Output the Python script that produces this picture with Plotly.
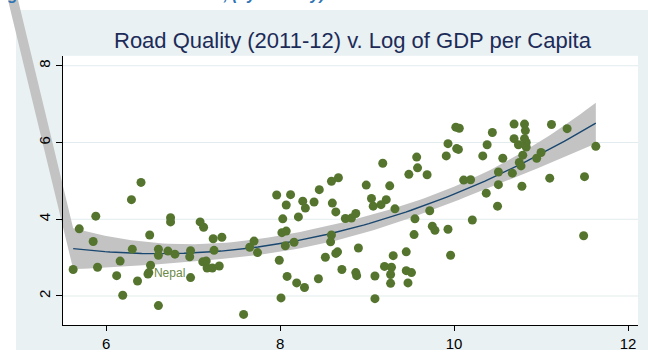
import numpy as np
import plotly.graph_objects as go

# Log of GDP per capita (x) and road quality score 2011-12 (y), one entry per country
log_gdp_pc = [
    5.62, 5.69, 5.85, 5.88, 5.90, 6.12, 6.16, 6.19, 6.29, 6.30,
    6.36, 6.40, 6.48, 6.49, 6.51, 6.50, 6.60, 6.60, 6.60, 6.71,
    6.79, 6.74, 6.74, 6.97, 6.96, 6.97, 7.08, 7.12, 7.23, 7.33,
    7.24, 7.11, 7.15, 7.16, 7.22, 7.30, 7.58, 7.65, 7.70, 7.74,
    7.96, 8.12, 8.07, 8.03, 8.21, 8.02, 8.07, 8.06, 8.16, 7.99,
    8.08, 8.19, 8.28, 8.44, 8.01, 8.26, 8.29, 8.39, 8.45, 8.59,
    8.67, 8.60, 8.64, 8.75, 8.82, 8.87, 8.59, 8.58, 8.66, 8.64,
    8.52, 8.71, 8.90, 8.87, 8.88, 9.09, 9.09, 8.99, 9.05, 9.07,
    9.16, 9.22, 9.26, 9.18, 9.32, 9.20, 9.28, 9.30, 9.27, 9.27,
    9.45, 9.45, 9.51, 9.47, 9.48, 9.57, 9.58, 9.69, 9.55, 9.54,
    9.72, 9.75, 9.78, 9.93, 9.96, 9.91, 9.93, 10.02, 10.06, 10.03,
    10.05, 10.11, 10.19, 10.21, 10.33, 10.38, 10.44, 10.37, 10.50, 10.51,
    10.51, 10.56, 10.67, 10.69, 10.81, 10.82, 10.69, 10.74, 10.81, 10.83,
    10.83, 10.79, 11.00, 10.95, 10.75, 10.77, 10.78, 11.10, 11.12, 11.30,
    11.50, 11.49, 11.63,
]
road_quality = [
    2.69, 3.75, 3.42, 4.08, 2.75, 2.53, 2.91, 2.02, 4.51, 3.22,
    2.39, 4.96, 2.57, 2.61, 2.80, 3.59, 1.75, 3.22, 3.06, 3.17,
    3.09, 4.04, 3.93, 3.18, 3.02, 2.48, 3.93, 3.79, 3.49, 3.53,
    3.19, 2.89, 2.91, 2.73, 2.73, 2.78, 1.52, 3.27, 3.43, 3.13,
    4.63, 4.64, 4.37, 4.01, 4.06, 3.65, 3.69, 3.31, 3.40, 2.93,
    2.51, 2.34, 2.22, 2.45, 1.95, 4.47, 4.29, 4.45, 4.77, 4.99,
    5.08, 4.42, 4.19, 4.02, 4.03, 4.15, 3.59, 3.41, 3.15, 3.11,
    3.01, 2.69, 3.25, 2.61, 2.53, 2.52, 1.93, 4.89, 4.54, 4.34,
    4.38, 4.51, 4.87, 5.46, 4.27, 2.77, 2.75, 3.05, 2.56, 2.33,
    3.15, 2.66, 2.61, 2.34, 5.17, 5.62, 5.34, 5.16, 4.01, 3.60,
    4.22, 3.82, 3.71, 3.74, 3.06, 5.65, 5.97, 6.40, 6.37, 5.84,
    5.82, 5.02, 5.03, 3.98, 5.65, 5.94, 6.26, 4.68, 4.34, 4.90,
    5.23, 5.59, 5.20, 6.48, 6.48, 6.31, 6.10, 5.94, 6.10, 6.00,
    5.88, 5.67, 5.74, 5.59, 5.48, 5.39, 4.86, 5.07, 6.47, 6.36,
    5.11, 3.57, 5.90,
]

# Labelled country (index into the arrays above)
label_name = "Nepal"
label_idx = 12

x_ticks = [6, 8, 10, 12]
y_ticks = [2, 4, 6, 8]

# Far-off vertices of the CI polygon, beyond the top-left of the graph
band_spur_x = [4.815, 4.931]
band_spur_y = [10.23, 10.23]

TITLE = "Road Quality (2011-12) v. Log of GDP per Capita"
HEADER = "Figure 13: Road Infrastructure, (by country)"

# ---- quadratic fit with 95% confidence band for the mean ----
x = np.asarray(log_gdp_pc)
y = np.asarray(road_quality)
n = len(x)
X = np.column_stack([np.ones(n), x, x ** 2])
beta, *_ = np.linalg.lstsq(X, y, rcond=None)
resid = y - X @ beta
s2 = resid @ resid / (n - 3)
XtX_inv = np.linalg.inv(X.T @ X)
T975 = 1.977  # t(0.975, df = n - 3)

xg = np.linspace(x.min(), x.max(), 100)
G = np.column_stack([np.ones_like(xg), xg, xg ** 2])
fit = G @ beta
se = np.sqrt(s2 * np.einsum("ij,jk,ik->i", G, XtX_inv, G))
lo, hi = fit - T975 * se, fit + T975 * se

band_x = list(xg) + list(xg[::-1]) + band_spur_x
band_y = list(hi) + list(lo[::-1]) + band_spur_y

# ---- geometry ----
W, H = 648, 352
PL, PR, PT, PB = 63, 638, 56, 327          # plot region in pixels
XR = [5.503, 12.115]                        # data range across the plot region
YR = [1.24, 8.262]
sx = (XR[1] - XR[0]) / (PR - PL)
sy = (YR[1] - YR[0]) / (PB - PT)
XF = [XR[0] - PL * sx, XR[1] + (W - PR) * sx]   # same scale over the whole canvas
YF = [YR[0] - (H - PB) * sy, YR[1] + PT * sy]

GREEN = "#55752f"
NAVY = "#1a476f"
PANEL = "#e9f1f3"
GRID = "#e2ebee"
FONT = "Liberation Sans, Arial, sans-serif"

fig = go.Figure()

# CI band on a canvas-wide axis pair so it is not clipped to the plot region
fig.add_trace(go.Scatter(
    x=band_x, y=band_y, xaxis="x", yaxis="y", mode="lines",
    fill="toself", fillcolor="#c3c3c3", line=dict(width=0),
    hoverinfo="skip", showlegend=False,
))
# fitted line, points and label on the framed axes
fig.add_trace(go.Scatter(
    x=xg, y=fit, xaxis="x2", yaxis="y2", mode="lines",
    line=dict(color=NAVY, width=1.4), showlegend=False,
))
fig.add_trace(go.Scatter(
    x=log_gdp_pc, y=road_quality, xaxis="x2", yaxis="y2", mode="markers",
    marker=dict(size=9, color=GREEN, line=dict(width=0)), showlegend=False,
))
fig.add_trace(go.Scatter(
    x=[log_gdp_pc[label_idx]], y=[road_quality[label_idx]], xaxis="x2", yaxis="y2",
    mode="markers+text", text=[label_name], textposition="middle right",
    marker=dict(size=8, opacity=0),
    textfont=dict(family=FONT, size=12, color="#6b8a48"), showlegend=False,
))

# horizontal grid at the y ticks, spanning the plot region, beneath the band
grid_shapes = [
    dict(type="line", xref="paper", yref="y2", layer="below",
         x0=PL / W, x1=PR / W, y0=v, y1=v, line=dict(color=GRID, width=1.2))
    for v in y_ticks
]

fig.update_layout(
    width=W, height=H,
    margin=dict(l=0, r=0, t=0, b=0),
    paper_bgcolor="white",
    plot_bgcolor="rgba(0,0,0,0)",
    showlegend=False,
    xaxis=dict(domain=[0, 1], range=XF, anchor="y", visible=False, fixedrange=True),
    yaxis=dict(domain=[0, 1], range=YF, anchor="x", visible=False, fixedrange=True),
    xaxis2=dict(
        domain=[PL / W, PR / W], range=XR, anchor="y2",
        tickvals=x_ticks, ticks="outside", ticklen=5, tickwidth=1, tickcolor="black",
        showline=True, linecolor="black", linewidth=1, showgrid=False, zeroline=False,
        tickfont=dict(family=FONT, size=15, color="black"), fixedrange=True,
    ),
    yaxis2=dict(
        domain=[(H - PB) / H, (H - PT) / H], range=YR, anchor="x2",
        tickvals=y_ticks, ticks="outside", ticklen=6, tickwidth=1, tickcolor="black",
        showline=True, linecolor="black", linewidth=1,
        showgrid=False, zeroline=False,
        tickangle=-90, tickfont=dict(family=FONT, size=15, color="black"),
        fixedrange=True,
    ),
    shapes=[
        dict(type="rect", xref="paper", yref="paper", layer="below",
             x0=16 / W, x1=1, y0=0, y1=(H - 10) / H,
             fillcolor=PANEL, line=dict(width=0)),
        dict(type="rect", xref="paper", yref="paper", layer="below",
             x0=PL / W, x1=PR / W, y0=(H - PB) / H, y1=(H - PT) / H,
             fillcolor="white", line=dict(width=0)),
    ] + grid_shapes,
    annotations=[
        dict(text=TITLE, xref="paper", yref="paper", x=352.7 / W, y=1 - 40.5 / H,
             xanchor="center", yanchor="middle", showarrow=False,
             font=dict(family=FONT, size=22, color="#1c2b58")),
        dict(text="<b><i>" + HEADER + "</i></b>", xref="paper", yref="paper",
             x=-8 / W, y=1 + 6 / H, xanchor="left", yanchor="middle", showarrow=False,
             font=dict(family=FONT, size=16, color="#2e74b5")),
    ],
)

fig.write_html("out.html")
